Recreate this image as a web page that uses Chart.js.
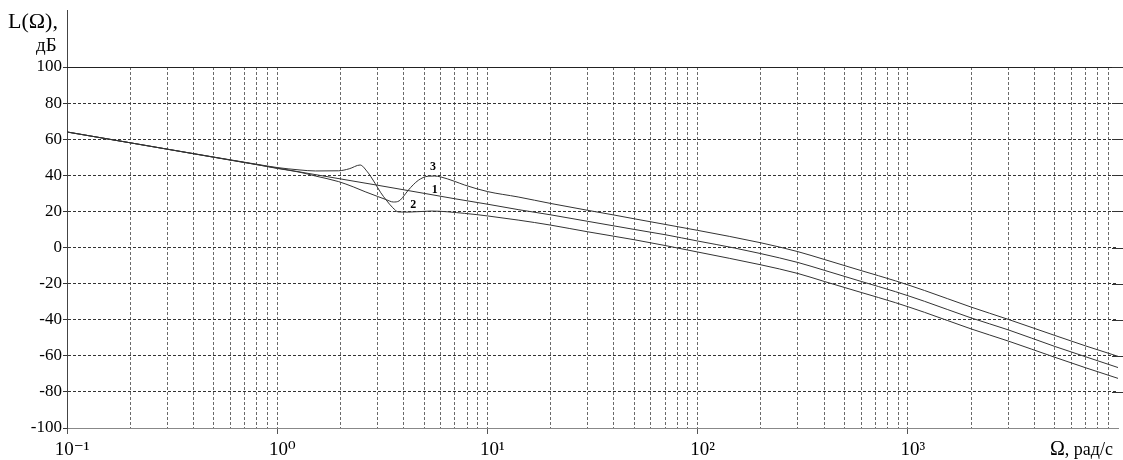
<!DOCTYPE html>
<html><head><meta charset="utf-8">
<script src="https://cdn.jsdelivr.net/npm/chart.js@4/dist/chart.umd.min.js"></script>
<style>html,body{margin:0;padding:0;background:#fff;overflow:hidden}#wrap{width:1123px;height:460px;position:relative}</style>
</head><body><div id="wrap"><canvas id="c" width="1123" height="460"></canvas></div>
<script>
// ---- data (Ω in rad/s, L in dB) ----
const w1 = [0.1, 0.2, 0.5, 1, 2, 3, 5, 7, 10, 14, 20, 30, 50, 70, 100, 150, 200, 300, 400, 600, 875, 1200, 2000, 3000, 5000, 7000, 10000];
const L1 = [64, 58, 50, 44, 38, 34.5, 30, 27, 24, 21, 18.1, 14.5, 10, 7.1, 3.6, -0.3, -3.4, -8.3, -12.6, -18.8, -24.5, -29.8, -39, -45.6, -54.8, -60.5, -66.5];

const w2 = [0.1, 0.2, 0.5, 0.8, 1, 1.27, 1.52, 1.96, 2.2, 2.48, 2.67, 2.92, 3.1, 3.3, 3.55, 3.77, 4.2, 5.4, 7.8, 10, 14, 20, 30, 50, 70, 100, 200, 300, 400, 600, 875, 1200, 2000, 3000, 5000, 7000, 10000];
const L2 = [64, 58, 50.1, 46.1, 44.3, 43, 42.4, 42.5, 43.6, 45.7, 42.3, 35.6, 30.6, 26.3, 22.0, 19.7, 19.6, 20.2, 18.9, 17.5, 15.2, 12.4, 8.7, 4.3, 1.1, -2.5, -9.6, -14.4, -18.8, -24.9, -30.6, -35.9, -45.1, -51.8, -60.8, -66.6, -72.5];

const w3 = [0.1, 0.2, 0.5, 0.8, 1, 1.27, 1.52, 1.96, 2.3, 2.62, 3.0, 3.3, 3.57, 3.8, 4.0, 4.2, 4.69, 5.22, 5.6, 6.0, 7.0, 7.8, 10, 14, 20, 30, 40, 50, 70, 100, 200, 300, 400, 600, 875, 1200, 2000, 3000, 5000, 7000, 10000];
const L3 = [64, 58, 50, 45.9, 43.8, 41.8, 39.6, 36.5, 33.6, 30.9, 28.3, 26.5, 25.2, 25.8, 28.5, 31.7, 37.2, 39.5, 39.6, 39.1, 36.6, 34.6, 31, 28, 24.4, 20.6, 18, 15.9, 12.8, 9.5, 2.6, -2.3, -6.6, -12.8, -18.5, -23.8, -33, -39.8, -48.7, -54.5, -60.3];

const curveNames = ['1', '2', '3'];
const curveLabelW = [5.62, 4.44, 5.51];
const curveLabelL = [31.9, 23.5, 44.8];

const xDecades = [0.1, 1, 10, 100, 1000, 10000];
const xMinorMult = [1, 2, 3, 4, 5, 6, 7, 8, 9];
const xTickLabels = ['10\u207B\u00B9', '10\u2070', '10\u00B9', '10\u00B2', '10\u00B3'];
const yTicks = [100, 80, 60, 40, 20, 0, -20, -40, -60, -80, -100];
const yTitle = ['L(\u03A9),', '\u0434\u0411'];
const xTitleMain = '\u03A9';
const xTitleRest = ', \u0440\u0430\u0434/\u0441';

const SERIF = "'Liberation Serif', 'DejaVu Serif', serif";

function mk(ws, ls) { return ws.map((w, i) => ({x: w, y: ls[i]})); }

const gridVals = [];
xDecades.forEach((d, di) => {
  if (di === xDecades.length - 1) { gridVals.push(d); return; }
  xMinorMult.forEach(m => gridVals.push(+(d * m).toPrecision(6)));
});

const extras = {
  id: 'extras',
  afterDraw(chart) {
    const {ctx, chartArea: a, scales: {x, y}} = chart;
    ctx.save();
    ctx.strokeStyle = '#222'; ctx.lineWidth = 1; ctx.setLineDash([]);
    const yt = Math.round(y.getPixelForValue(100)) + 0.5;
    ctx.beginPath(); ctx.moveTo(a.left, yt); ctx.lineTo(1123, yt); ctx.stroke();
    const xl = Math.round(a.left) + 0.5;
    ctx.strokeStyle = '#444';
    ctx.beginPath(); ctx.moveTo(xl, 10); ctx.lineTo(xl, a.top); ctx.stroke();
    ctx.strokeStyle = '#333';
    yTicks.forEach(v => {
      if (v === -100) return;
      const py = Math.round(y.getPixelForValue(v)) + 0.5;
      ctx.beginPath(); ctx.moveTo(1112, py); ctx.lineTo(1123, py); ctx.stroke();
    });
    ctx.fillStyle = '#000';
    ctx.textBaseline = 'alphabetic';
    ctx.textAlign = 'left';
    ctx.font = '22px ' + SERIF;
    ctx.fillText(yTitle[0], 8, 28);
    ctx.font = '19px ' + SERIF;
    ctx.fillText(yTitle[1], 36, 51);
    ctx.font = '20px ' + SERIF;
    ctx.fillText(xTitleMain, 1050, 455);
    const wM = ctx.measureText(xTitleMain).width;
    ctx.font = '18px ' + SERIF;
    ctx.fillText(xTitleRest, 1050 + wM, 455);
    ctx.font = 'bold 12px ' + SERIF;
    ctx.textAlign = 'center'; ctx.textBaseline = 'middle';
    curveNames.forEach((n, i) => {
      ctx.fillText(n, x.getPixelForValue(curveLabelW[i]), y.getPixelForValue(curveLabelL[i]));
    });
    ctx.restore();
  }
};

const lineStyle = {borderColor: '#333', borderWidth: 1, pointRadius: 0, cubicInterpolationMode: 'monotone', fill: false};

new Chart(document.getElementById('c'), {
  type: 'line',
  data: {datasets: [
    Object.assign({label: curveNames[0], data: mk(w1, L1)}, lineStyle),
    Object.assign({label: curveNames[1], data: mk(w2, L2)}, lineStyle),
    Object.assign({label: curveNames[2], data: mk(w3, L3)}, lineStyle)
  ]},
  options: {
    responsive: false, animation: false, devicePixelRatio: 1,
    layout: {padding: {top: 67, right: 1, left: 0, bottom: 0}},
    plugins: {legend: {display: false}, tooltip: {enabled: false}},
    scales: {
      x: {
        type: 'logarithmic', min: 0.1, max: 10000, position: 'bottom',
        afterBuildTicks: s => { s.ticks = gridVals.map(v => ({value: v})); },
        afterFit: s => { s.height = 32; },
        ticks: {
          autoSkip: false, maxRotation: 0, minRotation: 0, padding: 5, labelOffset: 5,
          color: '#000', font: {family: SERIF, size: 19},
          callback: (v) => { const i = xDecades.findIndex(d => Math.abs(d - v) < d * 1e-6); return (i >= 0 && i < xTickLabels.length) ? xTickLabels[i] : ''; }
        },
        grid: {
          color: c => (c.tick && (c.tick.value >= 10000 || c.tick.value <= 0.1)) ? 'rgba(0,0,0,0)' : '#6a6a6a',
          lineWidth: 1, tickLength: 6, tickBorderDash: [1, 0],
          tickColor: c => (c.tick && xDecades.some(d => Math.abs(d - c.tick.value) < d * 1e-6) && c.tick.value < 10000) ? '#555' : 'rgba(0,0,0,0)'
        },
        border: {display: true, color: '#888', width: 1, dash: [3, 2]}
      },
      y: {
        min: -100, max: 100,
        afterBuildTicks: s => { s.ticks = yTicks.map(v => ({value: v})); },
        afterFit: s => { s.width = 67; },
        ticks: {color: '#000', padding: 1, font: {family: SERIF, size: 17}, callback: v => String(v)},
        grid: {
          color: c => (c.tick && (c.tick.value === -100 || c.tick.value === 100)) ? 'rgba(0,0,0,0)' : '#333',
          lineWidth: 1, tickLength: 4, tickColor: '#333', tickBorderDash: [1, 0]
        },
        border: {display: true, color: '#444', width: 1, dash: [3, 2]}
      }
    }
  },
  plugins: [extras]
});
</script></body></html>
